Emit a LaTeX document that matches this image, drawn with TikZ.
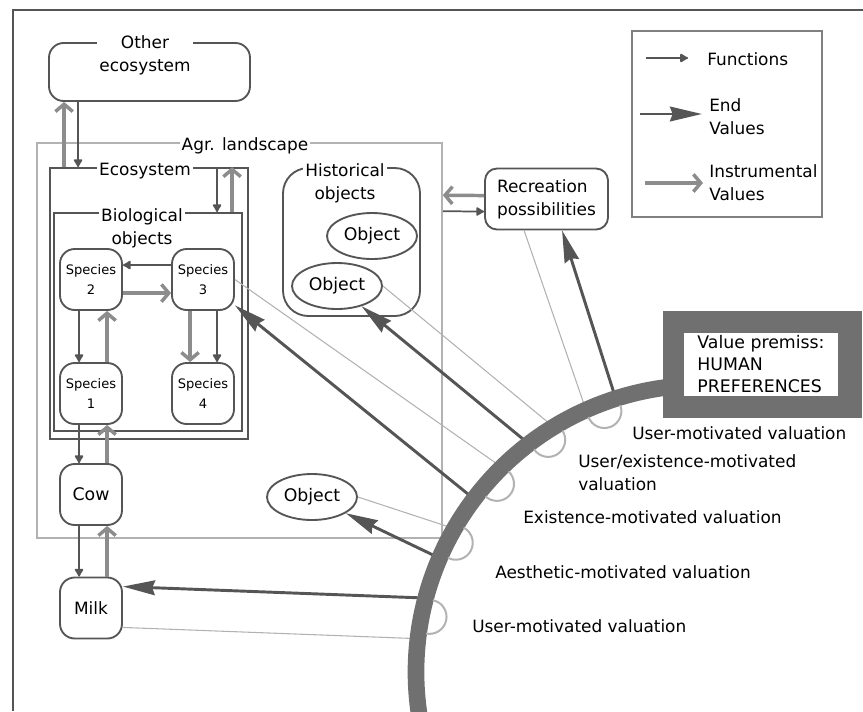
\documentclass[tikz,border=0pt]{standalone}
\usepackage{fontspec}
\setmainfont{DejaVu Sans}
\usetikzlibrary{arrows.meta,calc,shapes.geometric}

\definecolor{dk}{RGB}{85,85,85}
\definecolor{insc}{RGB}{140,140,140}
\definecolor{lite}{RGB}{178,178,178}
\definecolor{bandc}{RGB}{112,112,112}

\tikzset{
  sbox/.style={draw=dk, line width=1.4pt, rounded corners=11pt, minimum width=46.5pt, minimum height=45.75pt, inner sep=0pt, align=center},
  spc/.style={sbox, font=\fontsize{9.8}{15}\selectfont},
  frm/.style={draw=dk, line width=1.4pt, inner sep=0pt},
  ttl/.style={fill=white, inner sep=1.5pt, align=center},
  obj/.style={ellipse, draw=dk, line width=1.4pt, minimum width=67.5pt, minimum height=34.5pt, inner sep=0pt, font=\fontsize{13}{17}\selectfont},
  func/.style={draw=dk, line width=1.3pt, -{Latex[length=7pt,width=8pt,round]}},
  instr/.style={draw=insc, line width=2.6pt, -{Straight Barb[length=5.5pt,width=13pt]}},
  endv/.style={draw=dk, line width=2.2pt, -{Stealth[length=24pt,width=11pt,inset=2pt]}},
  vlink/.style={draw=lite, line width=0.8pt},
  cup/.style={draw=lite, line width=1.5pt},
  band/.style={draw=bandc, line width=12.5pt},
  lbl/.style={anchor=west, inner sep=0pt, align=left}
}

\begin{document}
\begin{tikzpicture}[x=0.75pt, y=-0.75pt, font=\fontsize{12.7}{17}\selectfont]
\useasboundingbox (0,0) rectangle (863,711);
\draw[dk, line width=1pt] (13,711) -- (13,10) -- (863,10);

% boxes
\node[frm, draw=lite, line width=1.2pt, minimum width=303.75pt, minimum height=296.25pt](Agr) at (239.5,340.5) {};
\node[frm, rounded corners=11pt, minimum width=150.75pt, minimum height=43.5pt](Oth) at (149.5,72) {};
\node[frm, minimum width=148.5pt, minimum height=203.25pt](Eco) at (149,303.5) {};
\node[frm, minimum width=141pt, minimum height=163.5pt](Bio) at (148,322) {};
\node[frm, rounded corners=19pt, minimum width=102.75pt, minimum height=111pt](Hist) at (351.5,242) {};
\node[ttl](OthT) at (145,55) {Other\\ecosystem};
\node[ttl](AgrT) at (245,146) {Agr. landscape};
\node[ttl](EcoT) at (145,171) {Ecosystem};
\node[ttl](BioT) at (142,228.5) {Biological\\objects};
\node[ttl](HistT) at (345,183.5) {Historical\\objects};

\node[spc](Sp2) at (91,279.5) {Species\\2};
\node[spc](Sp3) at (203,279.5) {Species\\3};
\node[spc](Sp1) at (91,393.5) {Species\\1};
\node[spc](Sp4) at (203,393.5) {Species\\4};
\node[sbox, font=\fontsize{13}{17}\selectfont](Cow) at (91,494.5) {Cow};
\node[sbox](Milk) at (91,608) {Milk};

\node[obj](Obj1) at (372,236) {Object};
\node[obj](Obj2) at (337,286) {Object};
\node[obj](Obj3) at (312,497) {Object};
\node[sbox, rounded corners=9pt, minimum width=92.25pt, align=left](Rec) at (546.5,199) {Recreation\\possibilities};

% legend
\node[frm, draw=gray, minimum width=142.5pt, minimum height=139.5pt](Leg) at (727,124) {};
\node[lbl](LFun) at (707,59) {Functions};
\node[lbl](LEnd) at (709,117) {End\\Values};
\node[lbl](LIns) at (709,183) {Instrumental\\Values};
\coordinate (lf1) at (646,58); \coordinate (lf2) at (688,58);
\coordinate (le1) at (640,114); \coordinate (le2) at (702,114);
\coordinate (li1) at (645,183); \coordinate (li2) at (703,183);
	\draw[func] (lf1) to (lf2);
	\draw[endv] (le1) to (le2);
	\draw[instr] (li1) to (li2);

% functions and instrumental values
	\draw[instr] ($(Eco.north west)+(15,0)$) to ($(Oth.south west)+(16,0)$);
	\draw[func] ($(Oth.south west)+(30,0)$) to ($(Eco.north west)+(29,0)$);
	\draw[func] ($(Eco.north west)+(168,0)$) to ($(Bio.north west)+(164,0)$);
	\draw[instr] ($(Bio.north west)+(179,0)$) to ($(Eco.north west)+(183,0)$);
	\draw[func] ($(Sp3.north west)+(0,17)$) to ($(Sp2.north east)+(0,17)$);
	\draw[instr] ($(Sp2.north east)+(0,45)$) to ($(Sp3.north west)+(0,45)$);
	\draw[func] ($(Sp2.south west)+(20,0)$) to ($(Sp1.north west)+(20,0)$);
	\draw[instr] ($(Sp1.north west)+(48,0)$) to ($(Sp2.south west)+(48,0)$);
	\draw[instr] ($(Sp3.south west)+(19,0)$) to ($(Sp4.north west)+(19,0)$);
	\draw[func] ($(Sp3.south west)+(46,0)$) to ($(Sp4.north west)+(46,0)$);
	\draw[func] ($(Sp1.south west)+(20,0)$) to ($(Cow.north west)+(20,0)$);
	\draw[instr] ($(Cow.north west)+(48,0)$) to ($(Sp1.south west)+(48,0)$);
	\draw[func] ($(Cow.south west)+(20,0)$) to ($(Milk.north west)+(20,0)$);
	\draw[instr] ($(Milk.north west)+(48,0)$) to ($(Cow.south west)+(48,0)$);
	\draw[instr] ($(Rec.north west)+(0,28)$) to ($(Agr.north east)+(0,53)$);
	\draw[func] ($(Agr.north east)+(0,69)$) to ($(Rec.north west)+(0,44)$);

% valuation
\coordinate (C) at (703,672);
\coordinate (e1) at ($(C)+(252.3:290)$);
\coordinate (e2) at ($(C)+(232.5:290)$);
\coordinate (e3) at ($(C)+(217.1:290)$);
\coordinate (e4) at ($(C)+(203.4:290)$);
\coordinate (e5) at ($(C)+(194.8:290)$);
\coordinate (t1) at ($(C)+(245.8:279)$);
\coordinate (t2) at ($(C)+(239.2:279)$);
\coordinate (t3) at ($(C)+(225.8:279)$);
\coordinate (t4) at ($(C)+(210.3:279)$);
\coordinate (t5) at ($(C)+(186.8:279)$);
	\draw[vlink] ($(Rec.south west)+(40,0)$) to (t1);
	\draw[vlink] (Obj2.east) to (t2);
	\draw[vlink] (Sp3.east) to (t3);
	\draw[vlink] (Obj3.east) to (t4);
	\draw[vlink] ($(Milk.south east)+(0,-12)$) to (t5);
	\draw[endv] (e1) to ($(Rec.south west)+(78,0)$);
	\draw[endv] (e2) to (Obj2);
	\draw[endv] (e3) to (Sp3);
	\draw[endv] (e4) to (Obj3);
	\draw[endv] (e5) to ($(Milk.north east)+(0,10)$);
\draw[band] ($(C)+(168:287)$) arc (168:265:287);

\node[frm, draw=bandc, fill=bandc, minimum width=147.75pt, minimum height=78.75pt](Prem) at (762.5,364.5) {};
\node[fill=white, minimum width=115.5pt, minimum height=47.25pt, inner sep=0pt, align=left, font=\fontsize{13}{16.5}\selectfont](PremIn) at (761,364.5) {Value premiss:\\HUMAN\\PREFERENCES};

\draw[cup] ($(C)+(249.3:279)+(339.3:17)$) arc (339.3:519.3:17);
\draw[cup] ($(C)+(236.3:279)+(326.3:17)$) arc (326.3:506.3:17);
\draw[cup] ($(C)+(222.4:279)+(312.4:17)$) arc (312.4:492.4:17);
\draw[cup] ($(C)+(207.6:279)+(297.6:17)$) arc (297.6:477.6:17);
\draw[cup] ($(C)+(191.4:279)+(281.4:17)$) arc (281.4:461.4:17);

\node[lbl](V1) at (632,433) {User-motivated valuation};
\node[lbl](V2) at (578,472.5) {User/existence-motivated\\valuation};
\node[lbl](V3) at (523,517) {Existence-motivated valuation};
\node[lbl](V4) at (495,572) {Aesthetic-motivated valuation};
\node[lbl](V5) at (472,626) {User-motivated valuation};
\end{tikzpicture}
\end{document}
